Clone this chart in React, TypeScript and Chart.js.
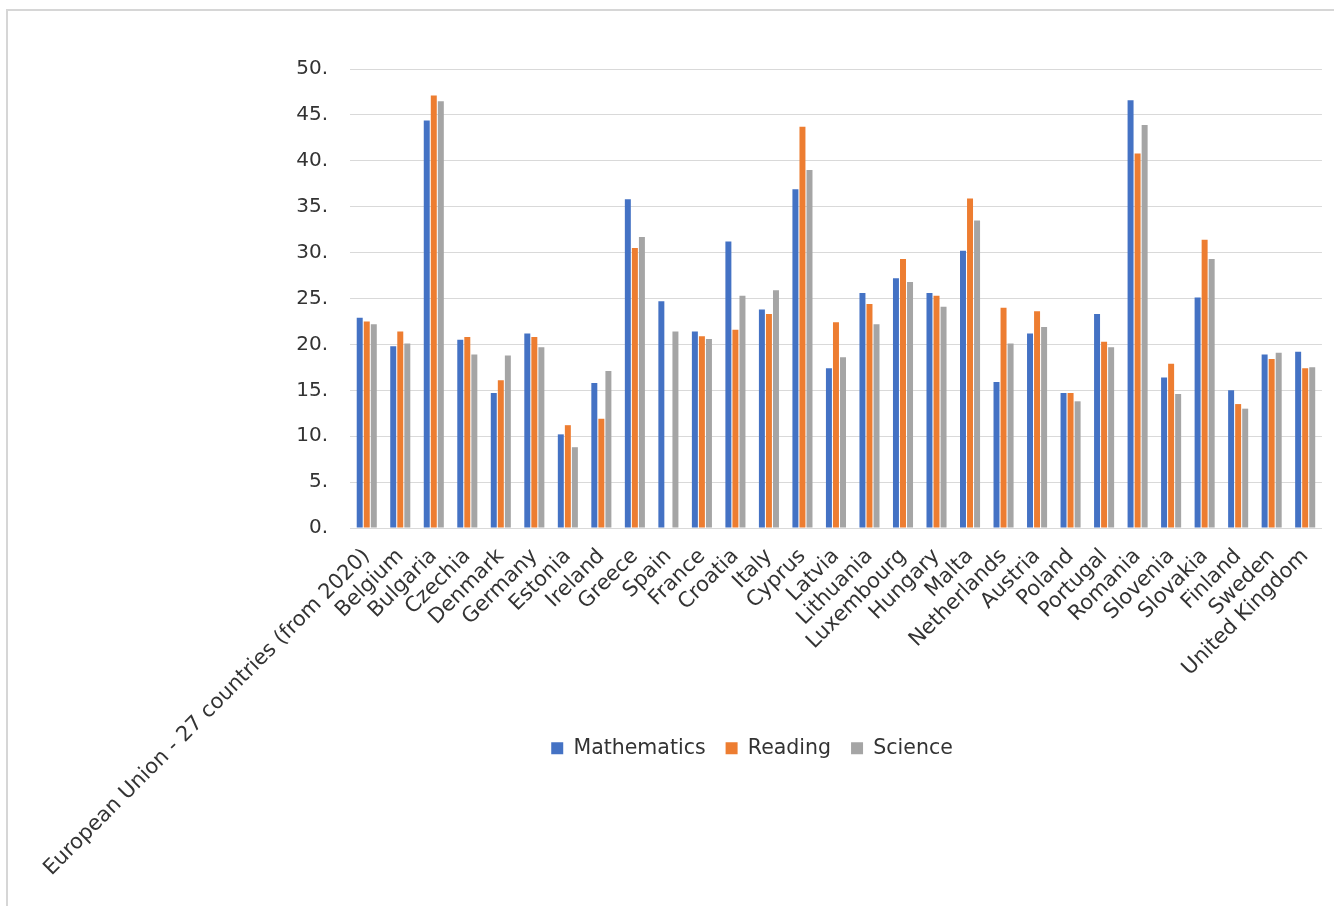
import React, { useEffect, useRef } from "react";
import { Chart, registerables } from "chart.js";

Chart.register(...registerables);

const categories = [
  "European Union - 27 countries (from 2020)",
  "Belgium",
  "Bulgaria",
  "Czechia",
  "Denmark",
  "Germany",
  "Estonia",
  "Ireland",
  "Greece",
  "Spain",
  "France",
  "Croatia",
  "Italy",
  "Cyprus",
  "Latvia",
  "Lithuania",
  "Luxembourg",
  "Hungary",
  "Malta",
  "Netherlands",
  "Austria",
  "Poland",
  "Portugal",
  "Romania",
  "Slovenia",
  "Slovakia",
  "Finland",
  "Sweden",
  "United Kingdom",
];

const mathematics = [
  22.9, 19.8, 44.4, 20.5, 14.7, 21.2, 10.2, 15.8, 35.8, 24.7, 21.4, 31.2, 23.8, 36.9, 17.4,
  25.6, 27.2, 25.6, 30.2, 15.9, 21.2, 14.7, 23.3, 46.6, 16.4, 25.1, 15.0, 18.9, 19.2,
];

const reading = [
  22.5, 21.4, 47.1, 20.8, 16.1, 20.8, 11.2, 11.9, 30.5, null, 20.9, 21.6, 23.3, 43.7, 22.4,
  24.4, 29.3, 25.3, 35.9, 24.0, 23.6, 14.7, 20.3, 40.8, 17.9, 31.4, 13.5, 18.4, 17.4,
];

const science = [
  22.2, 20.1, 46.5, 18.9, 18.8, 19.7, 8.8, 17.1, 31.7, 21.4, 20.6, 25.3, 25.9, 39.0, 18.6,
  22.2, 26.8, 24.1, 33.5, 20.1, 21.9, 13.8, 19.7, 43.9, 14.6, 29.3, 13.0, 19.1, 17.5,
];

const seriesNames = ["Mathematics", "Reading", "Science"];
const seriesColors = ["#4472C4", "#ED7D31", "#A5A5A5"];

const yMin = 0;
const yMax = 50;
const yStep = 5;

const FONT = "'DejaVu Sans', Verdana, sans-serif";
const TEXT = "#333333";

// moves the (bottom) legend up into the free space beside the rotated labels
const legendPlacer = {
  id: "legendPlacer",
  afterLayout(chart: any) {
    const lg = chart.legend;
    if (!lg) return;
    const h = 50;
    lg.top = 707;
    lg.bottom = 707 + h;
    lg.height = h;
  },
};

export default function App() {
  const canvasRef = useRef<HTMLCanvasElement | null>(null);

  useEffect(() => {
    if (!canvasRef.current) return;
    const values = [mathematics, reading, science];
    const chart = new Chart(canvasRef.current, {
      type: "bar",
      data: {
        labels: categories,
        datasets: seriesNames.map((name, i) => ({
          label: name,
          data: values[i],
          backgroundColor: seriesColors[i],
          borderWidth: 0,
          categoryPercentage: 0.63,
          barPercentage: 0.85,
        })),
      },
      options: {
        animation: false,
        responsive: true,
        maintainAspectRatio: false,
        layout: { padding: { left: 157, right: 0, top: 58, bottom: 0 } },
        plugins: {
          tooltip: { enabled: false },
          legend: {
            position: "bottom",
            maxHeight: 8,
            labels: {
              font: { family: FONT, size: 20.5 },
              color: TEXT,
              boxWidth: 12,
              boxHeight: 12,
              padding: 20,
            },
          },
        },
        scales: {
          x: {
            grid: { display: false, drawTicks: false },
            border: { display: true, color: "#d9d9d9" },
            ticks: {
              autoSkip: false,
              minRotation: 45,
              maxRotation: 45,
              padding: 16,
              font: { family: FONT, size: 21 },
              color: TEXT,
            },
            afterFit: (scale: any) => {
              scale.height = 370;
            },
          },
          y: {
            min: yMin,
            max: yMax,
            grid: { color: "#d9d9d9", drawTicks: false },
            border: { display: false },
            ticks: {
              stepSize: yStep,
              padding: 22,
              font: { family: FONT, size: 20 },
              color: TEXT,
              callback: (v: any) => `${v}.`,
            },
            afterFit: (scale: any) => {
              scale.width = 185;
            },
          },
        },
      },
      plugins: [legendPlacer],
    });
    return () => chart.destroy();
  }, []);

  return (
    <div
      style={{
        position: "absolute",
        left: 6,
        top: 9,
        width: 1326,
        height: 895,
        overflow: "hidden",
        borderTop: "2px solid #d6d6d6",
        borderLeft: "2px solid #d6d6d6",
        background: "#fff",
      }}
    >
      <div style={{ width: 1331, height: 895 }}>
        <canvas ref={canvasRef} style={{ display: "block", width: "100%", height: "100%" }} />
      </div>
    </div>
  );
}
